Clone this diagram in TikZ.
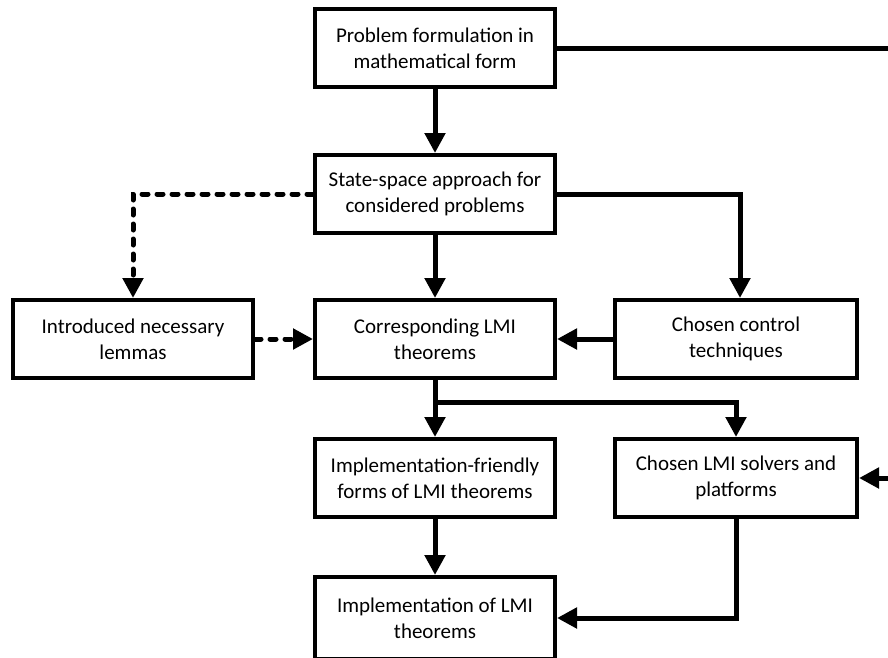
\documentclass[tikz,border=0pt]{standalone}
\usepackage{fontspec}
\setmainfont{Carlito}
\usetikzlibrary{arrows.meta}
\begin{document}
\begin{tikzpicture}[x=1pt,y=-1pt,
  box/.style={draw, line width=4pt, rectangle, minimum width=240pt, minimum height=78pt,
    align=center, inner sep=0pt, font=\fontsize{21}{26}\selectfont},
  widebox/.style={box, minimum width=242pt},
  conn/.style={line width=5pt, -{Triangle[length=20pt,width=20pt]}},
  plain/.style={line width=5pt},
  dashconn/.style={conn, line cap=round, dash pattern=on 6pt off 9pt}]
\useasboundingbox (0,0) rectangle (888,657);
\clip (0,0) rectangle (888,657);
\node[box] (p1) at (435,48) {Problem formulation in\\mathematical form};
\node[box] (p2) at (435,194) {State-space approach for\\considered problems};
\node[box] (lem) at (133,339) {Introduced necessary\\lemmas};
\node[box] (lmi) at (435,339) {Corresponding LMI\\theorems};
\node[widebox] (ctrl) at (736,339) {Chosen control\\techniques};
\node[box] (fr) at (435,478) {Implementation-friendly\\forms of LMI theorems};
\node[widebox] (solv) at (736,478) {Chosen LMI solvers and\\platforms};
\node[box, minimum height=82pt] (impl) at (435,618) {Implementation of LMI\\theorems};
\coordinate (topend) at (890,48);
\coordinate (rightin) at (890,478);
\coordinate (br) at (435,402);
\draw[plain] (p1.east) -- (topend);
\draw[conn] (p1.south) -- (p2.north);
\draw[dashconn] (p2.west) -| (lem.north);
\draw[conn] (p2.east) -| ([xshift=4pt]ctrl.north);
\draw[conn] (p2.south) -- (lmi.north);
\draw[dashconn] (lem.east) -- (lmi.west);
\draw[conn] (ctrl.west) -- (lmi.east);
\draw[conn] (lmi.south) -- (fr.north);
\draw[conn] (br) -| (solv.north);
\draw[conn] (rightin) -- (solv.east);
\draw[conn] (fr.south) -- (impl.north);
\draw[conn] (solv.south) |- (impl.east);
\end{tikzpicture}
\end{document}
